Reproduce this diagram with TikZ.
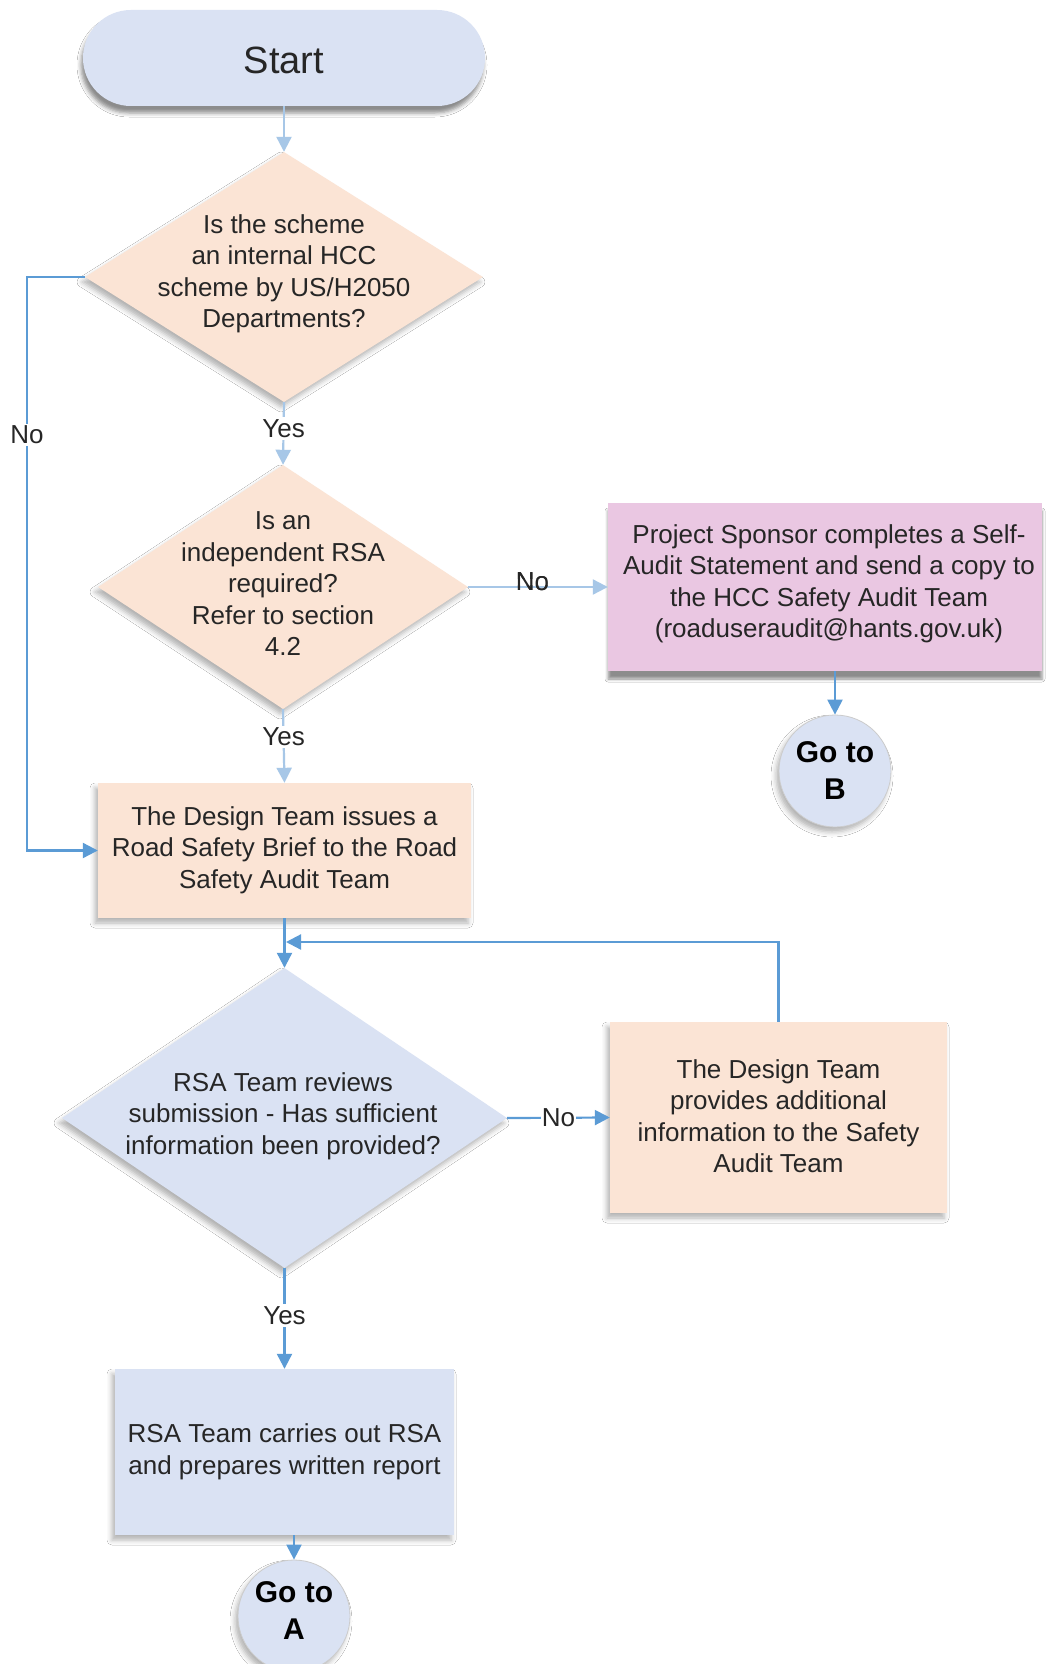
\documentclass[tikz,border=0pt]{standalone}
\usepackage{fontspec}
\setmainfont{Liberation Sans}
\usetikzlibrary{shapes.geometric,arrows.meta,shadows.blur}
\definecolor{bluefill}{HTML}{DAE2F3}
\definecolor{peach}{HTML}{FBE4D5}
\definecolor{pinkfill}{HTML}{EAC7E2}
\definecolor{linedark}{HTML}{5B9BD5}
\definecolor{linelight}{HTML}{A7C7E7}
\definecolor{txtcol}{HTML}{262626}
\tikzset{
  txt/.style={font=\fontsize{26}{31.5}\selectfont, align=center, inner sep=0pt, text=txtcol},
  boldtxt/.style={font=\fontsize{30}{37}\selectfont\bfseries, align=center, inner sep=0pt, text=black},
  shad/.style={blur shadow={shadow xshift=-3pt, shadow yshift=-5pt, shadow blur radius=5pt, shadow opacity=30}},
  shadstrong/.style={blur shadow={shadow xshift=0pt, shadow yshift=-8pt, shadow blur radius=3pt, shadow opacity=45}},
  dia/.style={diamond, draw=none, inner sep=0pt, shad},
  procbox/.style={rectangle, draw=none, inner sep=0pt, shad},
  connect/.style={circle, draw=black!20, line width=0.8pt, fill=bluefill, minimum size=112pt, inner sep=0pt, shad},
  conn/.style={draw=linedark, line width=2.2pt, -{Triangle[length=15pt,width=15pt]}},
  connlight/.style={draw=linelight, line width=2.2pt, -{Triangle[length=15pt,width=15pt]}},
  lbl/.style={txt, fill=white, inner sep=2pt},
}
\begin{document}
\begin{tikzpicture}[x=1pt,y=-1pt]
\useasboundingbox (0,0) rectangle (1046,1664);
\fill[white] (0,0) rectangle (1046,1664);

% Start
\node[rectangle, rounded corners=48pt, fill=bluefill, minimum width=402pt, minimum height=96pt, inner sep=0pt,
  blur shadow={shadow xshift=-2pt, shadow yshift=-7pt, shadow blur radius=4pt, shadow opacity=45}]
  (start) at (284,58) {};
\node[font=\fontsize{38}{44}\selectfont, text=txtcol, inner sep=0pt] (starttxt) at (284,60) {Start};

% Decision 1
\node[dia, fill=peach, minimum width=398pt, minimum height=250pt] (d1) at (284,277) {};
\node[txt] (d1t) at (284,274) {Is the scheme\\an internal HCC\\scheme by US/H2050\\Departments?};

% Decision 2
\node[dia, fill=peach, minimum width=370pt, minimum height=244pt] (d2) at (283,587) {};
\node[txt] (d2t) at (283,584) {Is an\\independent RSA\\required?\\Refer to section\\4.2};

% Self-audit box
\node[rectangle, fill=pinkfill, minimum width=434pt, minimum height=168pt, inner sep=0pt, shadstrong] (pink) at (825,587) {};
\node[txt] (pinkt) at (829,584) {Project Sponsor completes a Self-\\Audit Statement and send a copy to\\the HCC Safety Audit Team\\(roaduseraudit@hants.gov.uk)};

% Go to B
\node[connect] (gob) at (835,771) {};
\node[boldtxt] (gobt) at (835,771) {Go to\\B};

% Design team brief
\node[procbox, fill=peach, minimum width=373pt, minimum height=135pt] (box1) at (284.5,850.5) {};
\node[txt] (box1t) at (284.5,850) {The Design Team issues a\\Road Safety Brief to the Road\\Safety Audit Team};

% Decision 3
\node[dia, fill=bluefill, minimum width=445pt, minimum height=300pt] (d3) at (284.5,1118) {};
\node[txt] (d3t) at (283,1116) {RSA Team reviews\\submission - Has sufficient\\information been provided?};

% Additional info box
\node[procbox, fill=peach, minimum width=337pt, minimum height=191pt] (box3) at (778.5,1117.5) {};
\node[txt] (box3t) at (778.5,1116) {The Design Team\\provides additional\\information to the Safety\\Audit Team};

% RSA carries out
\node[procbox, fill=bluefill, minimum width=339pt, minimum height=166pt] (box4) at (284.5,1452) {};
\node[txt] (box4t) at (284.5,1452) {RSA Team carries out RSA\\and prepares written report};

% Go to A
\node[connect] (goa) at (294,1616) {};
\node[boldtxt] (goat) at (294,1611) {Go to\\A};

% Connectors
\draw[connlight] (start.south) -- (d1.north);
\draw[connlight] (d1.south) -- node[lbl, pos=0.42] (yes1) {Yes} (d2.north);
\draw[connlight] (d2.east) -- node[lbl, pos=0.46, yshift=5pt, fill=none] (no2) {No} (pink.west);
\fill[white] ([xshift=-17pt,yshift=-3pt]no2.center) rectangle ([xshift=17pt,yshift=3pt]no2.center);
\node[txt] at (no2) {No};
\draw[conn] (pink.south -| gob.north) -- (gob.north);
\draw[connlight] (d2.south) -- node[lbl, pos=0.38] (yes2) {Yes} (box1.north);

\coordinate (nol) at (27,850.5);
\draw[conn] (d1.west) -| (nol) -- (box1.west);
\node[lbl] (no1) at (27,435) {No};

\draw[conn] (box1.south) -- (d3.north);
\draw[conn] (d3.east) -- node[lbl, pos=0.5, inner sep=1pt] (no3) {No} (box3.west);
\coordinate (loopend) at (286,942);
\draw[conn] (box3.north) |- (loopend);
\draw[conn] (d3.south) -- node[lbl, pos=0.47] (yes3) {Yes} (box4.north);
\draw[conn] (box4.south -| goa.north) -- (goa.north);
\end{tikzpicture}
\end{document}
